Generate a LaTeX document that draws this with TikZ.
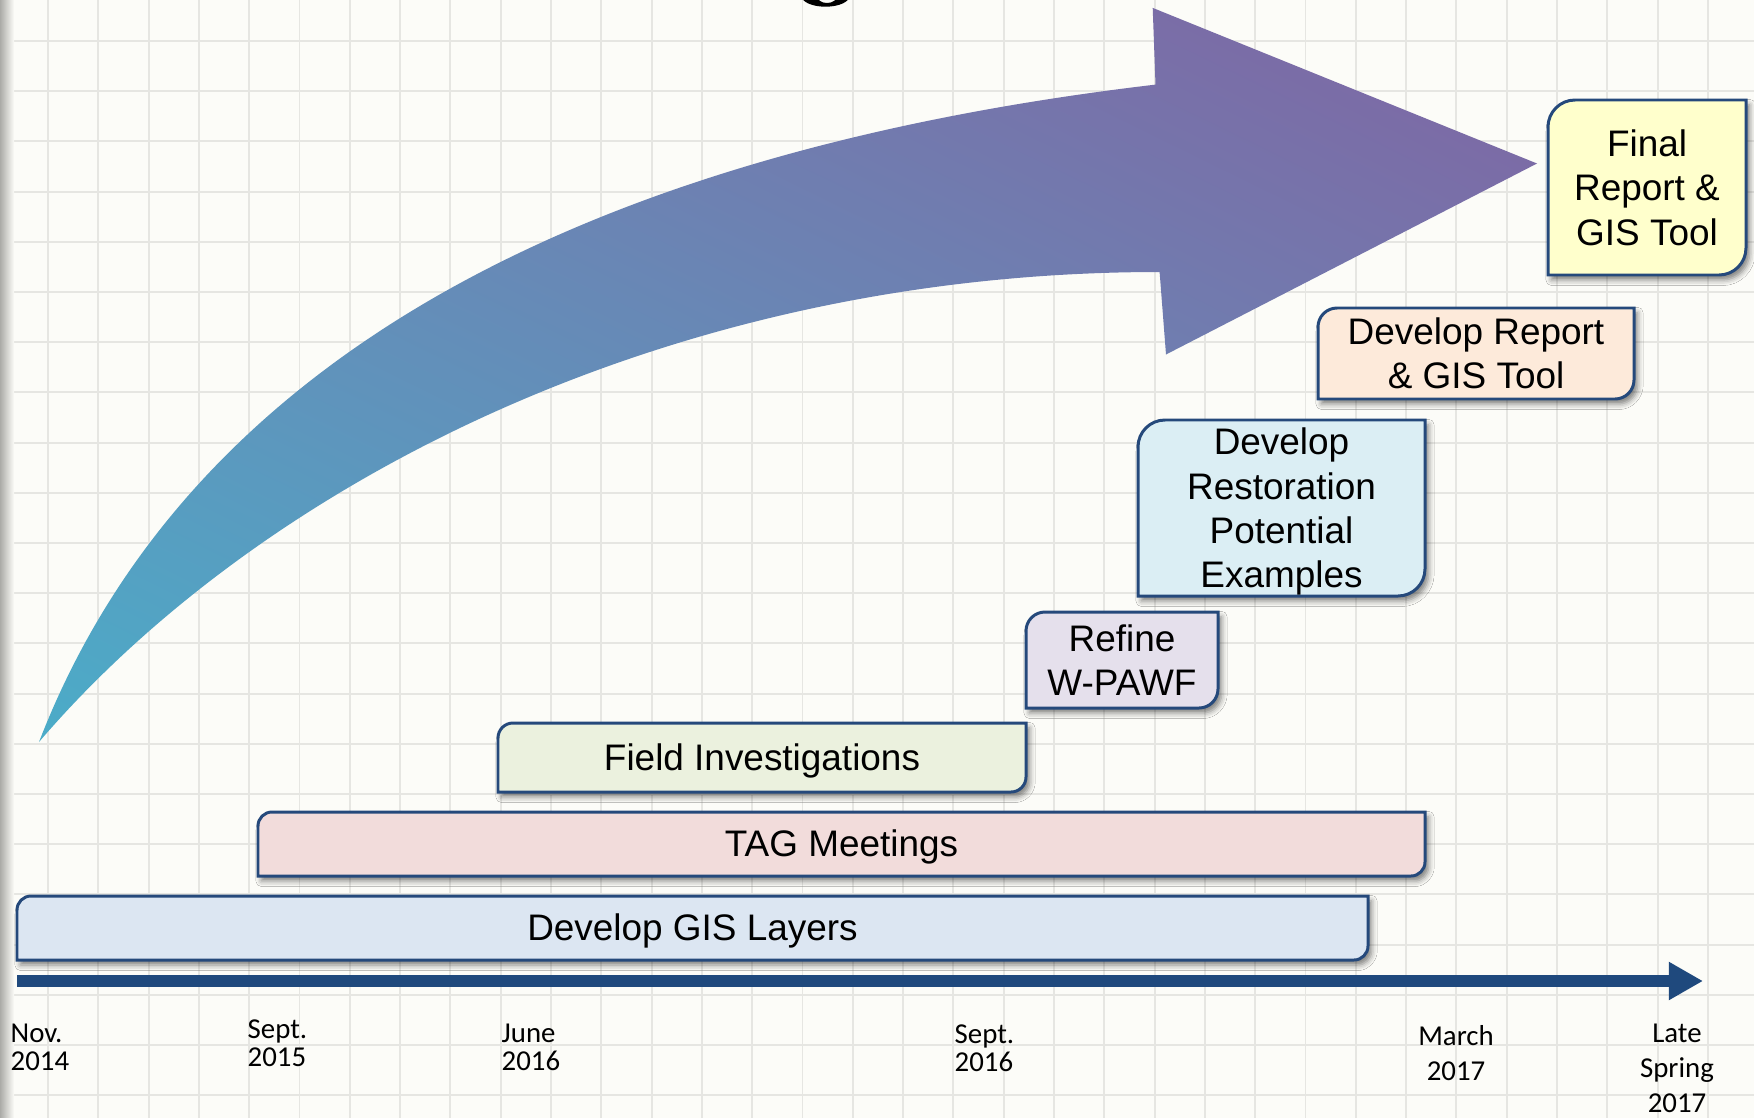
\documentclass[tikz,border=0pt]{standalone}
\usepackage{fontspec}
\newfontfamily\arialf{Liberation Sans}
\newfontfamily\calf{Carlito}
\usetikzlibrary{arrows.meta,shadows.blur,shadings}
\definecolor{bgcol}{HTML}{FCFCF8}
\definecolor{gridcol}{HTML}{E6E6E2}
\definecolor{edgecol}{HTML}{ABABA7}
\definecolor{navy}{HTML}{1F497D}
\definecolor{bordercol}{HTML}{25497B}
\definecolor{tealc}{HTML}{4BACC8}
\definecolor{purpc}{HTML}{8064A2}
\definecolor{midc}{HTML}{6A88B6}
\definecolor{cGIS}{HTML}{DCE6F2}
\definecolor{cTAG}{HTML}{F2DCDB}
\definecolor{cField}{HTML}{EBF1DE}
\definecolor{cRefine}{HTML}{E5E0EC}
\definecolor{cRestore}{HTML}{DBEEF4}
\definecolor{cReport}{HTML}{FDEADA}
\definecolor{cFinal}{HTML}{FFFFCC}
% #1 name, #2 x1, #3 y1, #4 x2, #5 y2, #6 corner radius, #7 fill, #8 text, #9 extra text options
\newcommand\tlbox[9]{%
  \path[boxshape, fill=#7] (#2,#5) -- (#2,#3+#6)
    .. controls (#2,#3+0.4477*#6) and (#2+0.4477*#6,#3) .. (#2+#6,#3)
    -- (#4,#3) -- (#4,#5-#6)
    .. controls (#4,#5-0.4477*#6) and (#4-0.4477*#6,#5) .. (#4-#6,#5)
    -- cycle;
  \node[boxtext,#9] (#1) at ({(#2+#4)/2},{(#3+#5)/2}) {#8};
}
\begin{document}
\begin{tikzpicture}[x=0.01cm,y=-0.01cm,
  boxshape/.style={draw=bordercol, line width=0.85pt,
    blur shadow={shadow xshift=1pt, shadow yshift=-1.4pt, shadow blur radius=1.6pt, shadow opacity=50}},
  boxtext/.style={font=\fontsize{10.5}{12.6}\selectfont\arialf, align=center, inner sep=0pt, text=black},
  datelbl/.style={font=\fontsize{8.2}{8}\selectfont\calf, inner sep=0pt, text=black},
  datelblwide/.style={font=\fontsize{8.2}{10}\selectfont\calf, inner sep=0pt, text=black, align=center},
  gridline/.style={draw=gridcol, line width=0.55pt},
  axisline/.style={draw=navy, line width=3.2pt, -{Triangle[length=9.7pt,width=10.2pt]}},
]
\useasboundingbox (0,0) rectangle (1754,1118);
% background and grid
\fill[bgcol] (0,0) rectangle (1754,1118);
\foreach \i in {0,...,33} \draw[gridline] ({48+\i*50.3},0) -- ({48+\i*50.3},1118);
\foreach \j in {0,...,21} \draw[gridline] (0,{41+\j*50.2}) -- (1754,{41+\j*50.2});
\shade[left color=edgecol, right color=bgcol] (0,0) rectangle (14,1118);
% fragment of cut-off title glyph
\fill[black, even odd rule] (825.5,-4) ellipse [x radius=24, y radius=10.7] (827,-4) ellipse [x radius=10, y radius=7];
% big curved arrow
\shade[lower left=tealc, upper right=purpc, upper left=midc, lower right=midc]
  (39,742) .. controls (190.6,350) and (601,150) .. (1155.5,84.6)
  -- (1152.7,7.9) -- (1537,163.5) -- (1166,354.5) -- (1159.6,272)
  .. controls (659.6,272) and (253.5,491.2) .. (39,742)
  -- cycle;
% task boxes
\tlbox{final}{1548}{100}{1746}{275}{27}{cFinal}{Final\\Report \&\\GIS Tool}{}
\tlbox{report}{1318}{308}{1634}{399}{19}{cReport}{Develop Report\\\& GIS Tool}{}
\tlbox{restore}{1138}{420}{1425}{596}{27}{cRestore}{Develop\\Restoration\\Potential\\Examples}{yshift=-1.1pt}
\tlbox{refine}{1026}{612}{1218}{708}{19}{cRefine}{Refine\\W-PAWF}{}
\tlbox{field}{498}{723}{1026}{792}{15}{cField}{Field Investigations}{yshift=-0.9pt}
\tlbox{tag}{258}{812}{1425}{876}{14}{cTAG}{TAG Meetings}{yshift=-0.7pt}
\tlbox{gis}{17}{896}{1368}{960}{14}{cGIS}{Develop GIS Layers}{yshift=-0.9pt}
% time axis
\coordinate (axs) at (17,981);
\coordinate (axe) at (1703,981);
\draw[axisline] (axs) -- (axe);
% dates
\node[datelbl, anchor=north west, align=left] (d1) at (10,1023) {Nov.\\2014};
\node[datelbl, anchor=north west, align=left] (d2) at (247,1019) {Sept.\\2015};
\node[datelbl, anchor=north west, align=left] (d3) at (501,1023) {June\\2016};
\node[datelbl, anchor=north west, align=left] (d4) at (954,1024) {Sept.\\2016};
\node[datelblwide, anchor=north] (d5) at (1456,1025) {March\\2017};
\node[datelblwide, anchor=north] (d6) at (1677,1023) {Late\\Spring\\2017};
\end{tikzpicture}
\end{document}
